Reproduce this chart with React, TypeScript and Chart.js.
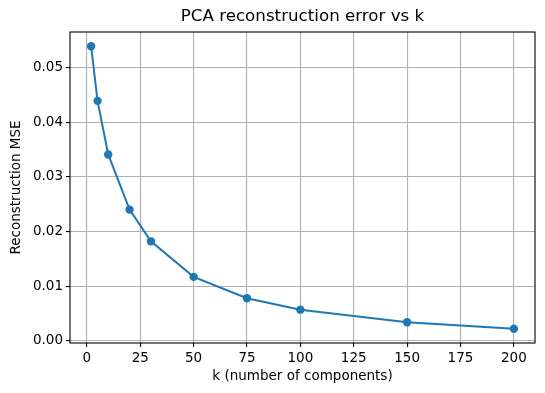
import React, { useEffect, useRef } from "react";
import { Chart, registerables } from "chart.js";

Chart.register(...registerables);

const kValues = [2, 5, 10, 20, 30, 50, 75, 100, 150, 200];
const mseValues = [0.0539, 0.0439, 0.0341, 0.0240, 0.0182, 0.0117, 0.0078, 0.0057, 0.0034, 0.0022];
const xTicks = [0, 25, 50, 75, 100, 125, 150, 175, 200];
const yTicks = [0, 0.01, 0.02, 0.03, 0.04, 0.05];
const titleText = "PCA reconstruction error vs k";

const FONT = "'DejaVu Sans', sans-serif";

const framePlugin = {
  id: "frame",
  afterDraw(chart: any) {
    const { ctx, chartArea } = chart;
    ctx.save();
    ctx.strokeStyle = "#000";
    ctx.lineWidth = 1.1;
    ctx.strokeRect(chartArea.left, chartArea.top, chartArea.right - chartArea.left, chartArea.bottom - chartArea.top);
    ctx.fillStyle = "#000";
    ctx.font = `16.7px ${FONT}`;
    ctx.textAlign = "center";
    ctx.textBaseline = "middle";
    ctx.fillText(titleText, (chartArea.left + chartArea.right) / 2, 17);
    ctx.restore();
  },
};

export default function App() {
  const ref = useRef<HTMLCanvasElement | null>(null);
  useEffect(() => {
    if (!ref.current) return;
    const chart = new Chart(ref.current, {
      type: "line",
      data: {
        datasets: [
          {
            data: kValues.map((k, i) => ({ x: k, y: mseValues[i] })),
            borderColor: "#1f77b4",
            backgroundColor: "#1f77b4",
            borderWidth: 2,
            pointRadius: 4.2,
            pointBorderWidth: 0,
            pointBackgroundColor: "#1f77b4",
            tension: 0,
          },
        ],
      },
      plugins: [framePlugin],
      options: {
        responsive: false,
        animation: false,
        layout: { padding: { left: 0, right: 10, top: 32, bottom: 0 } },
        plugins: {
          legend: { display: false },
          tooltip: { enabled: false },
          title: { display: false },
        },
        scales: {
          x: {
            type: "linear",
            min: -7.9,
            max: 209.9,
            afterBuildTicks: (s: any) => {
              s.ticks = xTicks.map((v) => ({ value: v }));
            },
            afterFit: (s: any) => {
              s.height = 50;
            },
            ticks: {
              color: "#000",
              font: { family: FONT, size: 13.5 },
              padding: 3,
              maxRotation: 0,
              autoSkip: false,
              callback: (v: any) => String(v),
            },
            grid: { color: "#b0b0b0", lineWidth: 1.1, tickColor: "#000", tickLength: 4 },
            border: { display: false },
            title: {
              display: true,
              text: "k (number of components)",
              color: "#000",
              font: { family: FONT, size: 13.5 },
              padding: { top: 0, bottom: 8.5 },
            },
          },
          y: {
            type: "linear",
            min: -0.0004,
            max: 0.0565,
            afterBuildTicks: (s: any) => {
              s.ticks = yTicks.map((v) => ({ value: v }));
            },
            afterFit: (s: any) => {
              s.width = 70;
            },
            ticks: {
              color: "#000",
              font: { family: FONT, size: 13.5 },
              padding: 3,
              autoSkip: false,
              callback: (v: any) => Number(v).toFixed(2),
            },
            grid: { color: "#b0b0b0", lineWidth: 1.1, tickColor: "#000", tickLength: 4 },
            border: { display: false },
            title: {
              display: true,
              text: "Reconstruction MSE",
              color: "#000",
              font: { family: FONT, size: 13.5 },
              padding: { top: 8, bottom: 0 },
            },
          },
        },
      },
    } as any);
    return () => chart.destroy();
  }, []);
  return (
    <div style={{ position: "fixed", left: 0, top: 0, width: 545, height: 393, background: "#fff" }}>
      <canvas ref={ref} width={545} height={393} style={{ display: "block" }} />
    </div>
  );
}
